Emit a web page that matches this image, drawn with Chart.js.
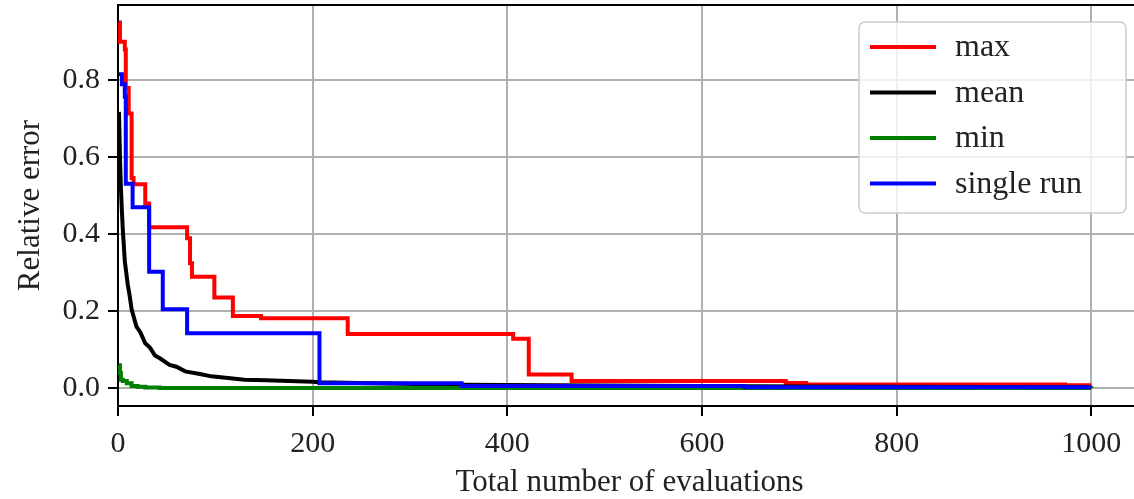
<!DOCTYPE html>
<html lang="en">
<head>
    <meta charset="UTF-8">
    <title>Relative error vs. total number of evaluations</title>
    <script src="https://cdn.jsdelivr.net/npm/chart.js"></script>
    <style>
        body {
            margin: 0;
            padding: 0;
            background: #ffffff;
            overflow: hidden;
        }
    </style>
</head>
<body>
    <canvas id="errorChart" width="1141" height="499"></canvas>
    <script>
        // tick labels
        const xTicks = [0, 200, 400, 600, 800, 1000];
        const yTicks = [0.0, 0.2, 0.4, 0.6, 0.8];

        // series names, in legend order
        const seriesNames = ['max', 'mean', 'min', 'single run'];

        // max over runs
        const maxEvals = [1, 2, 7, 8, 11, 14, 16, 28, 32, 71, 74, 76, 99, 118, 147, 236, 406, 422, 466, 686, 707, 973, 1000];
        const maxError = [0.95, 0.90, 0.88, 0.78, 0.714, 0.546, 0.53, 0.48, 0.418, 0.39, 0.325, 0.29, 0.236, 0.188, 0.182, 0.141, 0.129, 0.036, 0.019, 0.014, 0.010, 0.008, 0.008];

        // mean over runs
        const meanEvals = [1, 2, 3, 4, 5, 7, 10, 12, 14, 19, 23, 28, 33, 38, 43, 53, 60, 69, 84, 96, 130, 152, 200, 207, 260, 353, 500, 644, 800, 1000];
        const meanError = [0.718, 0.60, 0.52, 0.46, 0.41, 0.33, 0.27, 0.24, 0.205, 0.16, 0.145, 0.117, 0.105, 0.085, 0.078, 0.061, 0.056, 0.044, 0.037, 0.031, 0.022, 0.021, 0.0168, 0.016, 0.013, 0.009, 0.007, 0.005, 0.004, 0.003];

        // min over runs
        const minEvals = [1, 2, 3, 5, 9, 14, 20, 28, 43, 644, 1000];
        const minError = [0.06, 0.04, 0.022, 0.019, 0.013, 0.006, 0.004, 0.002, 0.001, 0.001, 0.0005];

        // one single run
        const singleEvals = [1, 4, 7, 8, 15, 32, 46, 71, 207, 353, 644, 1000];
        const singleError = [0.816, 0.79, 0.757, 0.531, 0.47, 0.303, 0.205, 0.143, 0.013, 0.006, 0.0026, 0.0026];

        const serif = "'Liberation Serif', 'Times New Roman', serif";
        const textColor = '#222222';

        function toPoints(xs, ys) {
            return xs.map((x, i) => ({ x: x, y: ys[i] }));
        }

        // legend box drawn inside the plot (upper right), plus the top spine
        const boxLegend = {
            id: 'boxLegend',
            afterDatasetsDraw(chart) {
                const ctx = chart.ctx;
                const area = chart.chartArea;
                ctx.save();
                // top spine
                ctx.strokeStyle = '#000';
                ctx.lineWidth = 2;
                ctx.beginPath();
                ctx.moveTo(area.left - 1, area.top);
                ctx.lineTo(area.right, area.top);
                ctx.stroke();

                // frame
                const bx = 859, by = 22, bw = 267, bh = 191;
                ctx.fillStyle = 'rgba(255,255,255,0.8)';
                ctx.strokeStyle = '#cccccc';
                ctx.lineWidth = 1.5;
                ctx.beginPath();
                ctx.roundRect(bx, by, bw, bh, 6);
                ctx.fill();
                ctx.stroke();

                ctx.font = '32px ' + serif;
                ctx.textBaseline = 'middle';
                ctx.textAlign = 'left';
                chart.data.datasets.forEach((ds, i) => {
                    const y = 47 + i * 45.5;
                    ctx.strokeStyle = ds.borderColor;
                    ctx.lineWidth = 4;
                    ctx.beginPath();
                    ctx.moveTo(870, y);
                    ctx.lineTo(936, y);
                    ctx.stroke();
                    ctx.fillStyle = textColor;
                    ctx.fillText(ds.label, 955, y + 1);
                });
                ctx.restore();
            }
        };

        const ctx = document.getElementById('errorChart').getContext('2d');
        const errorChart = new Chart(ctx, {
            type: 'line',
            data: {
                datasets: [
                    { label: seriesNames[0], data: toPoints(maxEvals, maxError), borderColor: '#ff0000', borderWidth: 4, stepped: true, order: 4 },
                    { label: seriesNames[1], data: toPoints(meanEvals, meanError), borderColor: '#000000', borderWidth: 4, order: 3 },
                    { label: seriesNames[2], data: toPoints(minEvals, minError), borderColor: '#008000', borderWidth: 4, stepped: true, order: 2 },
                    { label: seriesNames[3], data: toPoints(singleEvals, singleError), borderColor: '#0000ff', borderWidth: 4, stepped: true, order: 1 }
                ]
            },
            options: {
                responsive: false,
                animation: false,
                devicePixelRatio: 1,
                layout: { padding: { top: 5, left: 0, right: 0, bottom: 0 } },
                elements: {
                    point: { radius: 0 },
                    line: { fill: false, tension: 0 }
                },
                plugins: {
                    legend: { display: false },
                    tooltip: { enabled: false }
                },
                scales: {
                    x: {
                        type: 'linear',
                        min: 0,
                        max: 1051,
                        afterBuildTicks: (s) => { s.ticks = xTicks.map(v => ({ value: v })); },
                        afterFit: (s) => { s.height = 93; s.paddingLeft = 0; s.paddingRight = 0; },
                        grid: { color: '#b0b0b0', lineWidth: 2, tickColor: '#000', tickLength: 10, tickWidth: 2 },
                        border: { color: '#000', width: 2 },
                        ticks: {
                            color: textColor,
                            padding: 10,
                            maxRotation: 0,
                            font: { family: serif, size: 30 },
                            callback: (v) => String(v)
                        },
                        title: {
                            display: true,
                            text: 'Total number of evaluations',
                            color: textColor,
                            padding: { top: 0, bottom: 1 },
                            font: { family: serif, size: 31, lineHeight: 1.0 }
                        }
                    },
                    y: {
                        min: -0.046,
                        max: 0.9956,
                        afterBuildTicks: (s) => { s.ticks = yTicks.map(v => ({ value: v })); },
                        afterFit: (s) => { s.width = 118; s.paddingTop = 0; s.paddingBottom = 0; },
                        grid: { color: '#b0b0b0', lineWidth: 2, tickColor: '#000', tickLength: 10, tickWidth: 2 },
                        border: { color: '#000', width: 2 },
                        ticks: {
                            color: textColor,
                            padding: 8,
                            font: { family: serif, size: 30 },
                            callback: (v) => Number(v).toFixed(1)
                        },
                        title: {
                            display: true,
                            text: 'Relative error',
                            color: textColor,
                            padding: { top: 12, bottom: 0 },
                            font: { family: serif, size: 31 }
                        }
                    }
                }
            },
            plugins: [boxLegend]
        });
    </script>
</body>
</html>
